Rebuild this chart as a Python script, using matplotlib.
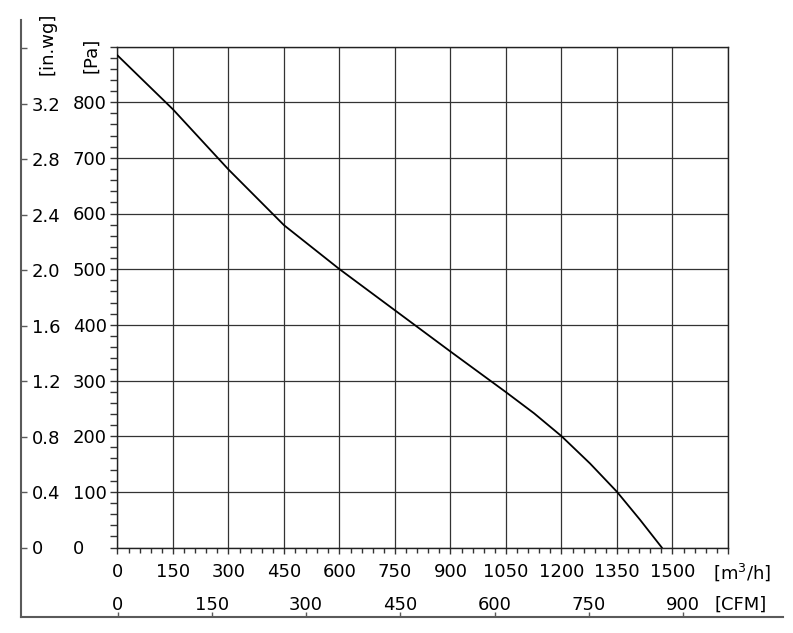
import numpy as np
import matplotlib
matplotlib.use("Agg")
import matplotlib.pyplot as plt
from matplotlib.ticker import MultipleLocator
from matplotlib.transforms import blended_transform_factory

# fan curve: airflow [m3/h] vs static pressure [Pa]
flow_m3h = [0, 150, 300, 450, 600, 750, 900, 1050, 1126, 1200, 1277, 1350, 1412, 1471]
pressure_pa = [884, 787, 679, 579, 500, 426, 352, 279, 241, 200, 151, 100, 50, 0]

m3h_ticks = [0, 150, 300, 450, 600, 750, 900, 1050, 1200, 1350, 1500]
pa_ticks = [0, 100, 200, 300, 400, 500, 600, 700, 800]
inwg_labels = ["0", "0.4", "0.8", "1.2", "1.6", "2.0", "2.4", "2.8", "3.2"]
cfm_ticks = [0, 150, 300, 450, 600, 750, 900]

PA_PER_INWG = 249.089
M3H_PER_CFM = 1.69901

W, H = 793, 633
def fx(px):
    return px / W
def fy(py):
    return 1 - py / H

plt.rcParams['font.family'] = ['DejaVu Sans']
fs = 13

fig = plt.figure(figsize=(W / 100, H / 100), dpi=100)

# plot area in pixels
L, R, T, B = 117.5, 728.0, 46.5, 547.5
xmax, ymax = 1650, 900
ax = fig.add_axes([fx(L), fy(B), (R - L) / W, (B - T) / H])
ax.set_xlim(0, xmax)
ax.set_ylim(0, ymax)
ax.set_zorder(2)

ax.set_xticks(m3h_ticks + [1650])
ax.set_yticks(pa_ticks + [900])
ax.xaxis.set_minor_locator(MultipleLocator(30))
ax.yaxis.set_minor_locator(MultipleLocator(20))
ax.set_xticklabels([])
ax.set_yticklabels([])
ax.tick_params(axis='y', which='both', direction='out', length=5, width=1, color='#333')
ax.tick_params(axis='x', which='major', direction='out', length=4.3, width=1, color='#333')
ax.tick_params(axis='x', which='minor', direction='out', length=3.6, width=1, color='#333')
ax.grid(True, which='major', color='#333', lw=0.9)
for s in ax.spines.values():
    s.set_color('#222')
    s.set_linewidth(1)

ax.plot(flow_m3h, pressure_pa, color='black', lw=1.3, zorder=3)

# outer frame with in.wg and CFM scales
FL, FR, FT, FB = 21, 783, 20, 617
px_per_m3h = (R - L) / xmax
px_per_pa = (B - T) / ymax
px_per_cfm = px_per_m3h * M3H_PER_CFM
px_per_inwg = px_per_pa * PA_PER_INWG
fr = fig.add_axes([fx(FL), fy(FB), (FR - FL) / W, (FB - FT) / H])
fr.set_zorder(1)
fr.patch.set_visible(False)
fr.set_xlim((FL - L) / px_per_cfm, (FR - L) / px_per_cfm)
fr.set_ylim((B - FB) / px_per_inwg, (B - FT) / px_per_inwg)
fr.spines['top'].set_visible(False)
fr.spines['right'].set_visible(False)
for side in ['left', 'bottom']:
    fr.spines[side].set_color('#5a5a5a')
    fr.spines[side].set_linewidth(1.5)
fr.set_xticks(cfm_ticks)
fr.set_yticks(np.arange(0, 3.61, 0.4))
fr.set_xticklabels([])
fr.set_yticklabels([])
fr.tick_params(axis='x', direction='in', length=3.5, width=1, color='#5a5a5a')
fr.tick_params(axis='y', direction='in', length=4.5, width=1, color='#5a5a5a')

# tick labels
tr_pa = blended_transform_factory(fig.transFigure, ax.transData)
for v in pa_ticks:
    ax.text(fx(73), v, str(v), transform=tr_pa, ha='left', va='center_baseline', fontsize=fs)
tr_in = blended_transform_factory(fig.transFigure, fr.transData)
for i, lab in enumerate(inwg_labels):
    fr.text(fx(32), i * 0.4, lab, transform=tr_in, ha='left', va='center_baseline', fontsize=fs)

tr_q = blended_transform_factory(ax.transData, fig.transFigure)
for v in m3h_ticks:
    ax.text(v, fy(570), str(v), transform=tr_q, ha='center', va='center_baseline', fontsize=fs,
            clip_on=False)
tr_c = blended_transform_factory(fr.transData, fig.transFigure)
for v in cfm_ticks:
    fr.text(v, fy(603), str(v), transform=tr_c, ha='center', va='center_baseline', fontsize=fs)

fig.text(fx(713), fy(570), '[m$^3$/h]', ha='left', va='center_baseline', fontsize=fs)
fig.text(fx(715), fy(603), '[CFM]', ha='left', va='center_baseline', fontsize=fs)
fig.text(fx(47), fy(75), '[in.wg]', rotation=90, ha='center', va='bottom', fontsize=fs)
fig.text(fx(91), fy(73), '[Pa]', rotation=90, ha='center', va='bottom', fontsize=fs)

fig.savefig('out.png', dpi=100, facecolor='white')
